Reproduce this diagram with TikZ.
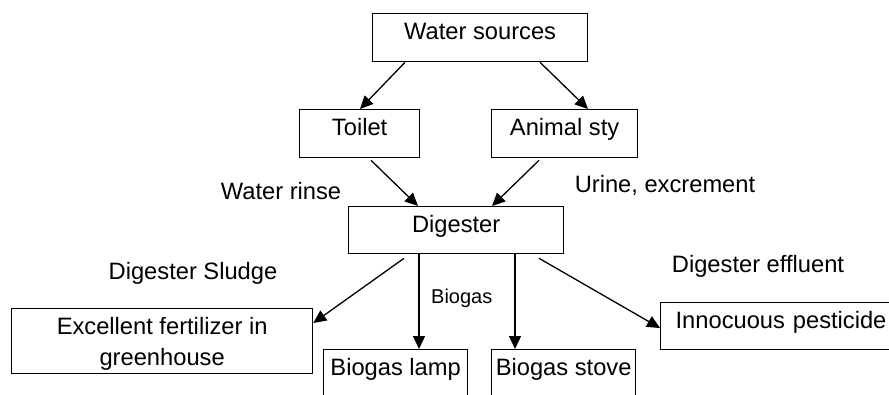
\documentclass[tikz,border=0pt]{standalone}
\usepackage{fontspec}
\setmainfont{Liberation Sans}
\usetikzlibrary{arrows.meta,calc}
\begin{document}
\begin{tikzpicture}[x=1pt,y=-1pt,
  every node/.style={font=\fontsize{23.7}{31}\selectfont, inner sep=0pt},
  box/.style={draw, line width=1.3pt, anchor=north west, align=center, text height=26pt},
  lbl/.style={anchor=base},
  arr/.style={line width=1.3pt, -{Triangle[length=13pt,width=12pt]}}]
\useasboundingbox (0,0) rectangle (889,394);
% boxes
\node[box, minimum width=215pt, text depth=22pt] (ws) at (372,13) {Water sources};
\node[box, minimum width=120pt, text depth=22pt] (toilet) at (299,109) {Toilet};
\node[box, minimum width=146pt, text depth=22pt] (animal) at (491,109) {Animal sty};
\node[box, minimum width=215pt, text depth=21pt] (dig) at (348,206) {Digester};
\node[box, minimum width=301pt, text height=57pt, text depth=8pt] (fert) at (11,308) {Excellent fertilizer in\\greenhouse};
\node[box, minimum width=144pt, text depth=34pt] (lamp) at (323,349) {Biogas lamp};
\node[box, minimum width=144pt, text depth=34pt] (stove) at (491,349) {Biogas stove};
\node[box, inner xsep=15pt, text width=240pt, align=left, text depth=21pt] (pest) at (660,302) {Innocuous pesticide};
% labels
\node[lbl] (wr) at (281,199) {Water rinse};
\node[lbl] (ue) at (665,192) {Urine, excrement};
\node[lbl] (ds) at (193,279) {Digester Sludge};
\node[lbl] (de) at (758,272) {Digester effluent};
\node[anchor=base west, font=\fontsize{20}{24}\selectfont] (bg) at (431,303) {Biogas};
% arrows
\draw[arr] ($(ws.south west)+(33,0)$) -- ($(toilet.north west)+(61,0)$);
\draw[arr] ($(ws.south west)+(168,0)$) -- ($(animal.north west)+(97,0)$);
\draw[arr] ($(toilet.south west)+(72,2)$) -- ($(dig.north west)+(70,0)$);
\draw[arr] ($(animal.south west)+(48,2)$) -- ($(dig.north west)+(144,0)$);
\draw[arr] ($(dig.south west)+(56,4)$) -- ($(fert.north east)+(0,15)$);
\draw[arr] ($(dig.south west)+(71,0)$) -- ($(lamp.north west)+(96,0)$);
\draw[arr] ($(dig.south west)+(167,0)$) -- ($(stove.north west)+(24,0)$);
\draw[arr] ($(dig.south west)+(191,4)$) -- ($(pest.north west)+(0,26)$);
\end{tikzpicture}
\end{document}
